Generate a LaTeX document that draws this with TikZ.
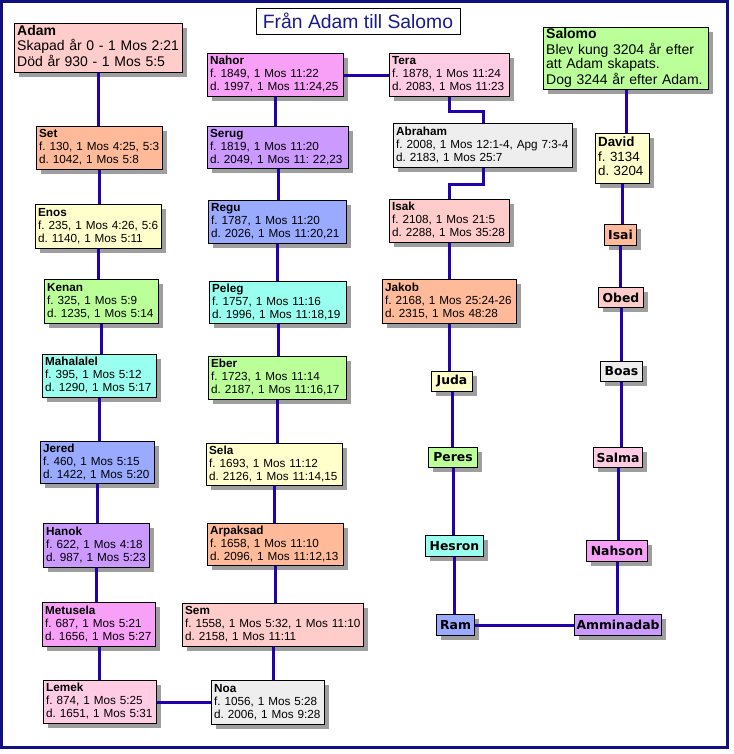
\documentclass[tikz,border=0pt]{standalone}
\usepackage{fontspec}
\setmainfont{Liberation Sans}
\newfontfamily\dvfont{DejaVu Sans}
\usetikzlibrary{shadows}
\frenchspacing
\definecolor{cPink}{HTML}{FFCCCC}
\definecolor{cPeach}{HTML}{FFBB99}
\definecolor{cYellow}{HTML}{FFFFCC}
\definecolor{cGreen}{HTML}{BBFF99}
\definecolor{cCyan}{HTML}{99FFEE}
\definecolor{cBlue}{HTML}{99AAFF}
\definecolor{cLav}{HTML}{CC99FF}
\definecolor{cMag}{HTML}{F8A0F8}
\definecolor{cLPink}{HTML}{FFCCE4}
\definecolor{cGrey}{HTML}{EEEEEE}
\definecolor{linkcol}{HTML}{2200AA}
\definecolor{framecol}{HTML}{101080}
\definecolor{titlecol}{HTML}{1A1A90}
\tikzset{
  shad/.style={drop shadow={shadow xshift=3.4pt, shadow yshift=-3.4pt, fill=black!38, opacity=1}},
  gbox/.style={draw=black, line width=0.75pt, shad, inner xsep=2pt, inner ysep=0pt,
    anchor=north west, align=left, font=\frenchspacing\fontsize{8.8}{9.75}\selectfont},
  bigtext/.style={font=\frenchspacing\fontsize{10.5}{11}\selectfont},
  davtext/.style={font=\frenchspacing\fontsize{10}{10.9}\selectfont},
  nbox/.style={draw=black, line width=0.75pt, shad, inner sep=0pt, anchor=north west,
    align=center, font=\dvfont\bfseries\fontsize{9.3}{10}\selectfont},
  link/.style={draw=linkcol, line width=2.25pt},
  titlebox/.style={draw=black, fill=white, line width=0.75pt, inner sep=0pt,
    text=titlecol, font=\fontsize{14.5}{16}\selectfont}
}
\newcommand\gb[8][]{%
  \pgfmathsetmacro\gbw{(#5-#3)*0.75}%
  \pgfmathsetmacro\gbh{(#6-#4)*0.75}%
  \pgfmathsetmacro\gbt{\gbw-4}%
  \node[gbox,fill=#7,minimum width=\gbw pt,minimum height=\gbh pt,text width=\gbt pt,#1] (#2) at (#3,#4)
    {\noindent\begin{tabular}{@{}l@{}}#8\end{tabular}};}
\newcommand\nb[7]{%
  \pgfmathsetmacro\gbw{(#4-#2)*0.75}%
  \pgfmathsetmacro\gbh{(#5-#3)*0.75}%
  \node[nbox,fill=#6,minimum width=\gbw pt,minimum height=\gbh pt] (#1) at (#2,#3) {#7};}
\begin{document}
\frenchspacing
\begin{tikzpicture}[x=0.75pt,y=-0.75pt]
\useasboundingbox (0,0) rectangle (733,754);
\fill[white] (0,0) rectangle (733,754);
\draw[framecol, line width=2.25pt] (1.5,1.5) rectangle (727.5,747.5);

\node[titlebox, minimum width=153pt, minimum height=19.5pt] (title) at (358,21) {Från Adam till Salomo};

% left column
\gb[bigtext]{Adam}{14}{23}{182}{72}{cPink}{\textbf{Adam}\\Skapad år 0 - 1 Mos 2:21\\Död år 930 - 1 Mos 5:5}
\gb{Set}{36}{126}{162}{169}{cPeach}{\textbf{Set}\\f. 130, 1 Mos 4:25, 5:3\\d. 1042, 1 Mos 5:8}
\gb{Enos}{35}{204}{161}{248}{cYellow}{\textbf{Enos}\\f. 235, 1 Mos 4:26, 5:6\\d. 1140, 1 Mos 5:11}
\gb{Kenan}{44}{279}{158}{323}{cGreen}{\textbf{Kenan}\\f. 325, 1 Mos 5:9\\d. 1235, 1 Mos 5:14}
\gb{Mahalalel}{42}{354}{156}{397}{cCyan}{\textbf{Mahalalel}\\f. 395, 1 Mos 5:12\\d. 1290, 1 Mos 5:17}
\gb{Jered}{40}{441}{154}{483}{cBlue}{\textbf{Jered}\\f. 460, 1 Mos 5:15\\d. 1422, 1 Mos 5:20}
\gb{Hanok}{43}{523}{149}{567}{cLav}{\textbf{Hanok}\\f. 622, 1 Mos 4:18\\d. 987, 1 Mos 5:23}
\gb{Metusela}{42}{602}{155}{646}{cMag}{\textbf{Metusela}\\f. 687, 1 Mos 5:21\\d. 1656, 1 Mos 5:27}
\gb{Lemek}{43}{680}{156}{723}{cLPink}{\textbf{Lemek}\\f. 874, 1 Mos 5:25\\d. 1651, 1 Mos 5:31}

% middle column
\gb{Noa}{211}{680}{324}{724}{cGrey}{\textbf{Noa}\\f. 1056, 1 Mos 5:28\\d. 2006, 1 Mos 9:28}
\gb{Sem}{182}{603}{363}{646}{cPink}{\textbf{Sem}\\f. 1558, 1 Mos 5:32, 1 Mos 11:10\\d. 2158, 1 Mos 11:11}
\gb{Arpaksad}{207}{523}{343}{565}{cPeach}{\textbf{Arpaksad}\\f. 1658, 1 Mos 11:10\\d. 2096, 1 Mos 11:12,13}
\gb{Sela}{206}{443}{342}{485}{cYellow}{\textbf{Sela}\\f. 1693, 1 Mos 11:12\\d. 2126, 1 Mos 11:14,15}
\gb{Eber}{208}{356}{346}{399}{cGreen}{\textbf{Eber}\\f. 1723, 1 Mos 11:14\\d. 2187, 1 Mos 11:16,17}
\gb{Peleg}{209}{281}{346}{323}{cCyan}{\textbf{Peleg}\\f. 1757, 1 Mos 11:16\\d. 1996, 1 Mos 11:18,19}
\gb{Regu}{208}{200}{346}{243}{cBlue}{\textbf{Regu}\\f. 1787, 1 Mos 11:20\\d. 2026, 1 Mos 11:20,21}
\gb{Serug}{207}{126}{348}{168}{cLav}{\textbf{Serug}\\f. 1819, 1 Mos 11:20\\d. 2049, 1 Mos 11: 22,23}
\gb{Nahor}{207}{53}{343}{96}{cMag}{\textbf{Nahor}\\f. 1849, 1 Mos 11:22\\d. 1997, 1 Mos 11:24,25}

% third column
\gb{Tera}{389}{53}{509}{96}{cLPink}{\textbf{Tera}\\f. 1878, 1 Mos 11:24\\d. 2083, 1 Mos 11:23}
\gb{Abraham}{393}{123}{572}{167}{cGrey}{\textbf{Abraham}\\f. 2008, 1 Mos 12:1-4, Apg 7:3-4\\d. 2183, 1 Mos 25:7}
\gb{Isak}{389}{199}{509}{242}{cPink}{\textbf{Isak}\\f. 2108, 1 Mos 21:5\\d. 2288, 1 Mos 35:28}
\gb{Jakob}{382}{279}{516}{323}{cPeach}{\textbf{Jakob}\\f. 2168, 1 Mos 25:24-26\\d. 2315, 1 Mos 48:28}
\nb{Juda}{431}{371}{472}{391}{cYellow}{Juda}
\nb{Peres}{428}{447}{477}{467}{cGreen}{Peres}
\nb{Hesron}{425}{535}{483}{556}{cCyan}{Hesron}
\nb{Ram}{436}{614}{474}{635}{cBlue}{Ram}

% right column
\gb[bigtext]{Salomo}{543}{27}{708}{89}{cGreen}{\textbf{Salomo}\\Blev kung 3204 år efter\\att Adam skapats.\\Dog 3244 år efter Adam.}
\gb[davtext]{David}{595}{133}{649}{183}{cYellow}{\textbf{David}\\f. 3134\\d. 3204}
\nb{Isai}{604}{224}{636}{245}{cPeach}{Isai}
\nb{Obed}{598}{287}{643}{307}{cPink}{Obed}
\nb{Boas}{600}{361}{642}{381}{cGrey}{Boas}
\nb{Salma}{593}{447}{642}{467}{cLPink}{Salma}
\nb{Nahson}{586}{540}{647}{561}{cMag}{Nahson}
\nb{Amminadab}{574}{614}{661}{635}{cLav}{Amminadab}

% connectors
\foreach \a/\b in {Adam/Set, Set/Enos, Enos/Kenan, Kenan/Mahalalel, Mahalalel/Jered,
  Jered/Hanok, Hanok/Metusela, Metusela/Lemek,
  Nahor/Serug, Serug/Regu, Regu/Peleg, Peleg/Eber, Eber/Sela, Sela/Arpaksad,
  Arpaksad/Sem, Sem/Noa,
  Isak/Jakob, Jakob/Juda, Juda/Peres, Peres/Hesron, Hesron/Ram,
  Salomo/David, David/Isai, Isai/Obed, Obed/Boas, Boas/Salma, Salma/Nahson,
  Nahson/Amminadab}
  \draw[link] (\a.south) -- (\a.south |- \b.north);
\draw[link] (Lemek.east) -- (Lemek.east -| Noa.west);
\draw[link] (Nahor.east) -- (Nahor.east -| Tera.west);
\draw[link] (Ram.east) -- (Ram.east -| Amminadab.west);
\draw[link] (Tera.south) -- ++(0,14) -| (Abraham.north);
\draw[link] (Abraham.south) -- ++(0,16) -| (Isak.north);
\end{tikzpicture}
\end{document}
